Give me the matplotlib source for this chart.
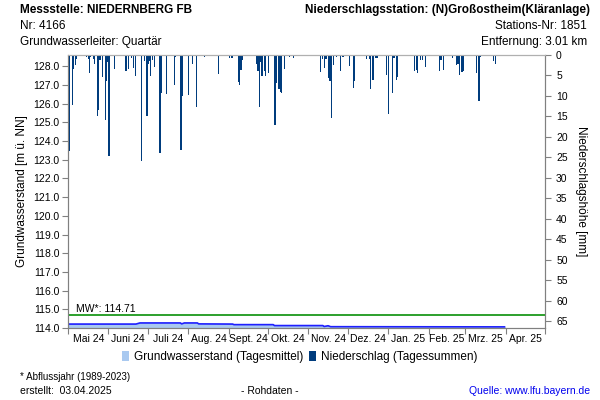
import matplotlib
matplotlib.use("Agg")
import matplotlib.pyplot as plt
import matplotlib.dates as mdates
from matplotlib.patches import Patch
import numpy as np
import datetime as dt

plt.rcParams['font.family'] = ['Liberation Sans', 'DejaVu Sans']

# --- data ---
gw_dates = ["2024-05-01", "2024-06-22", "2024-06-25", "2024-07-26", "2024-07-27",
            "2024-07-29", "2024-08-08", "2024-08-09", "2024-09-04", "2024-09-05",
            "2024-10-05", "2024-10-06", "2024-11-12", "2024-11-13", "2024-11-16",
            "2024-11-18", "2025-03-31"]
gw_level = [114.21, 114.21, 114.27, 114.27, 114.22,
            114.27, 114.27, 114.22, 114.21, 114.18,
            114.18, 114.13, 114.13, 114.08, 114.12,
            114.07, 114.06]

precip_dates = ["2024-05-02", "2024-05-04", "2024-05-05", "2024-05-06", "2024-05-07",
                "2024-05-15", "2024-05-16", "2024-05-17", "2024-05-18", "2024-05-20",
                "2024-05-21", "2024-05-23", "2024-05-24", "2024-05-25", "2024-05-27",
                "2024-05-29", "2024-05-30", "2024-05-31", "2024-06-01", "2024-06-05",
                "2024-06-14", "2024-06-16", "2024-06-18", "2024-06-20", "2024-06-21",
                "2024-06-26", "2024-06-28", "2024-06-30", "2024-07-01", "2024-07-02",
                "2024-07-03", "2024-07-04", "2024-07-06", "2024-07-10", "2024-07-11",
                "2024-07-15", "2024-07-21", "2024-07-22", "2024-07-26", "2024-07-27",
                "2024-08-01", "2024-08-04", "2024-08-07", "2024-08-13", "2024-08-19",
                "2024-08-24", "2024-09-01", "2024-09-03", "2024-09-08", "2024-09-09",
                "2024-09-10", "2024-09-11", "2024-09-13", "2024-09-15", "2024-09-22",
                "2024-09-23", "2024-09-24", "2024-09-25", "2024-09-26", "2024-09-28",
                "2024-09-29", "2024-10-01", "2024-10-04", "2024-10-06", "2024-10-07",
                "2024-10-09", "2024-10-10", "2024-10-11", "2024-10-13", "2024-10-17",
                "2024-10-20", "2024-11-10", "2024-11-11", "2024-11-13", "2024-11-14",
                "2024-11-16", "2024-11-17", "2024-11-18", "2024-11-20", "2024-11-22",
                "2024-11-23", "2024-11-25", "2024-11-27", "2024-12-02", "2024-12-03",
                "2024-12-05", "2024-12-06", "2024-12-15", "2024-12-17", "2024-12-18",
                "2024-12-20", "2024-12-22", "2024-12-23", "2024-12-30", "2025-01-01",
                "2025-01-04", "2025-01-05", "2025-01-07", "2025-01-08", "2025-01-15",
                "2025-01-21", "2025-01-22", "2025-01-23", "2025-01-25", "2025-01-27",
                "2025-01-29", "2025-02-09", "2025-02-10", "2025-02-12", "2025-02-19",
                "2025-02-22", "2025-02-23", "2025-02-24", "2025-02-26", "2025-02-27",
                "2025-03-09", "2025-03-11", "2025-03-12", "2025-03-22", "2025-03-24",
                "2025-03-26", "2025-03-29"]
precip_mm = [23.5, 12.3, 3.3, 2.4, 1.0,
             0.5, 1.0, 4.4, 0.5, 0.9,
             2.1, 14.9, 13.5, 1.2, 5.4,
             15.8, 6.4, 1.7, 24.7, 3.5,
             4.0, 3.5, 0.7, 3.2, 5.2,
             25.9, 1.5, 15.0, 2.2, 1.5,
             5.2, 1.2, 3.0, 23.9, 9.2,
             9.4, 7.2, 0.4, 23.1, 10.0,
             9.8, 2.2, 12.8, 0.4, 0.2,
             4.7, 0.7, 0.7, 6.6, 7.2,
             3.7, 1.2, 0.3, 0.3, 2.3,
             4.0, 12.7, 1.7, 5.1, 3.9,
             5.2, 4.4, 0.3, 17.0, 6.8,
             8.2, 9.0, 9.2, 3.3, 0.6,
             0.8, 4.1, 1.0, 3.2, 1.0,
             5.6, 6.3, 15.4, 2.4, 0.5,
             0.3, 3.8, 0.5, 2.7, 0.3,
             8.0, 6.3, 1.0, 1.0, 8.2,
             6.0, 0.8, 0.7, 5.0, 14.5,
             9.2, 0.8, 6.0, 5.3, 0.2,
             3.8, 3.7, 4.4, 1.3, 1.1,
             2.9, 3.8, 1.2, 3.7, 0.7,
             2.4, 2.3, 5.0, 4.1, 3.9,
             4.3, 11.3, 0.5, 1.4, 2.1,
             0.3, 0.2]

mw_value = 114.71
month_labels = ["Mai 24", "Juni 24", "Juli 24", "Aug. 24", "Sept. 24", "Okt. 24",
                "Nov. 24", "Dez. 24", "Jan. 25", "Feb. 25", "Mrz. 25", "Apr. 25"]

gw_x = [dt.datetime.strptime(d, "%Y-%m-%d") for d in gw_dates]
pr_x = [dt.datetime.strptime(d, "%Y-%m-%d") for d in precip_dates]

# --- figure ---
fig = plt.figure(figsize=(6, 4), dpi=100)
ax = fig.add_axes([0.1133, 0.18, 0.795, 0.6825])
ax2 = ax.twinx()

ax.fill_between(gw_x, 114.0, gw_level, color="#a9c9f0", zorder=1)
ax.plot(gw_x, gw_level, color="#1f1fff", lw=1.2, zorder=2)
ax.axhline(mw_value, color="#2ca02c", lw=1.4, zorder=3)
ax.text(dt.datetime(2024, 5, 7), mw_value + 0.12, "MW*: 114.71", fontsize=7.5)

ax2.bar(pr_x, precip_mm, width=0.9, align="edge", color="#003c7d", lw=0)

# x axis
x0, x1 = dt.datetime(2024, 5, 1), dt.datetime(2025, 5, 1)
ax.set_xlim(x0, x1)
month_starts = [dt.datetime(2024 + (4 + i) // 12, (4 + i) % 12 + 1, 1) for i in range(13)]
ax.set_xticks(month_starts)
ax.set_xticklabels([])
mids = [a + (b - a) / 2 for a, b in zip(month_starts[:-1], month_starts[1:])]
ax.set_xticks(mids, minor=True)
ax.set_xticklabels(month_labels, minor=True, fontsize=7.5)
ax.tick_params(axis="x", which="minor", length=0, pad=4)
ax.tick_params(axis="x", which="major", length=4, color="#808080")

# left y axis
ax.set_ylim(114.0, 128.6)
ax.set_yticks(np.arange(114.0, 128.5, 1.0))
ax.set_yticklabels([f"{v:.1f}" for v in np.arange(114.0, 128.5, 1.0)], fontsize=7.5)
ax.tick_params(axis="y", length=4, color="#808080", pad=2)
ax.set_ylabel("Grundwasserstand [m ü. NN]", fontsize=8.5, labelpad=4)

# right y axis
ax2.set_ylim(66.6, 0)
ax2.set_yticks(np.arange(0, 66, 5))
ax2.set_yticklabels([str(v) for v in range(0, 66, 5)], fontsize=7.5)
ax2.tick_params(axis="y", length=4, color="#808080", pad=4)
ax2.set_ylabel("Niederschlagshöhe [mm]", fontsize=8.5, rotation=-90, labelpad=14)

for a in (ax, ax2):
    for s in a.spines.values():
        s.set_color("#808080")
    a.spines["top"].set_color("#b0b0b0")

# header texts
fig.text(20 / 600, 1 - 10 / 400, "Messstelle: NIEDERNBERG FB", fontsize=8.5,
         fontweight="bold", va="center")
fig.text(20 / 600, 1 - 26 / 400, "Nr: 4166", fontsize=8.5, va="center")
fig.text(20 / 600, 1 - 42 / 400, "Grundwasserleiter: Quartär", fontsize=8.5, va="center")
fig.text(590 / 600, 1 - 10 / 400, "Niederschlagsstation: (N)Großostheim(Kläranlage)",
         fontsize=8.5, fontweight="bold", ha="right", va="center")
fig.text(587 / 600, 1 - 26 / 400, "Stations-Nr: 1851", fontsize=8.5, ha="right", va="center")
fig.text(587 / 600, 1 - 42 / 400, "Entfernung: 3.01 km", fontsize=8.5, ha="right", va="center")

# legend
handles = [Patch(facecolor="#a9c9f0", edgecolor="none"),
           Patch(facecolor="#003c7d", edgecolor="none")]
fig.legend(handles, ["Grundwasserstand (Tagesmittel)", "Niederschlag (Tagessummen)"],
           loc="center", bbox_to_anchor=(0.5, 1 - 357 / 400), ncol=2, frameon=False,
           fontsize=8.5, handlelength=0.6, handleheight=1.0, handletextpad=0.4,
           columnspacing=0.5)

# footer
fig.text(20 / 600, 1 - 377 / 400, "* Abflussjahr (1989-2023)", fontsize=7, va="center")
fig.text(20 / 600, 1 - 391 / 400, "erstellt:  03.04.2025", fontsize=7.5, va="center")
fig.text(270 / 600, 1 - 391 / 400, "- Rohdaten -", fontsize=7.5, ha="center", va="center")
fig.text(590 / 600, 1 - 391 / 400, "Quelle: www.lfu.bayern.de", fontsize=7.5,
         color="#0000ee", ha="right", va="center")

fig.savefig("out.png", dpi=100)
